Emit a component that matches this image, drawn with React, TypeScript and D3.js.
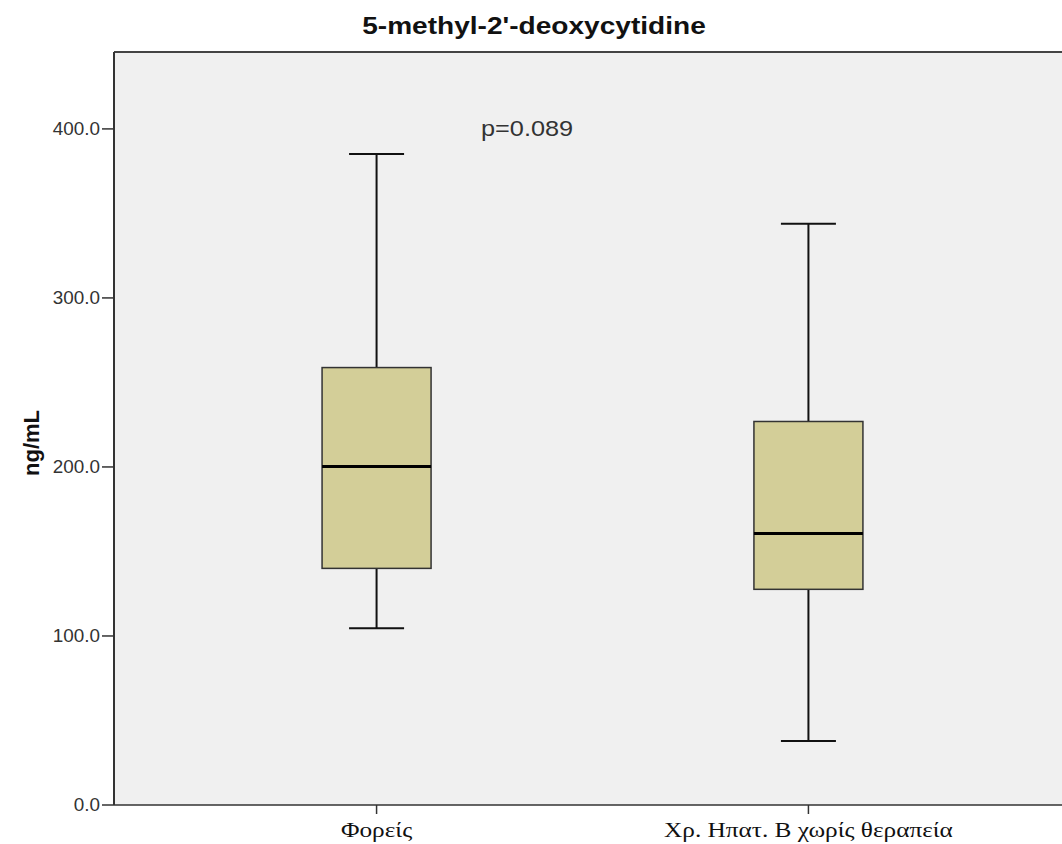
import React from "react";
import * as d3 from "d3";

const title = "5-methyl-2'-deoxycytidine";
const yLabel = "ng/mL";
const pLabel = "p=0.089";
const categories = ["Φορείς", "Χρ. Ηπατ. Β χωρίς θεραπεία"];
const whiskerLow = [104.6, 37.8];
const q1 = [140.0, 127.6];
const median = [200.3, 160.7];
const q3 = [258.8, 226.9];
const whiskerHigh = [385.2, 343.9];
const yTicks = [0, 100, 200, 300, 400];

const W = 1062;
const H = 844;
const margin = { top: 52, right: -9, bottom: 39, left: 114 };
// the source picture is a bit stretched sideways
const SX = 1.15;

function StretchText({ x, y, anchor = "start", sx = SX, children, ...rest }: any) {
  return (
    <text transform={`translate(${x},${y}) scale(${sx},1)`} textAnchor={anchor} {...rest}>
      {children}
    </text>
  );
}

export default function App() {
  const innerW = W - margin.left - margin.right;
  const innerH = H - margin.top - margin.bottom;

  const y = d3.scaleLinear().domain([0, 445.5]).range([innerH, 0]);
  const x = d3.scalePoint<string>().domain(categories).range([0, innerW]).padding(0.608);
  const boxW = 109;
  const capW = 55;

  return (
    <svg width={W} height={H} style={{ position: "absolute", left: 0, top: 0, display: "block", background: "#fff" }}>
      <StretchText x={534} y={34} anchor="middle" sx={1.17} fontFamily="Liberation Sans, Arial" fontWeight="bold" fontSize={24} fill="#111">
        {title}
      </StretchText>
      <g transform={`translate(${margin.left},${margin.top})`}>
        <rect x={0} y={0} width={innerW} height={innerH} fill="#f0f0f0" />
        <line x1={0} x2={innerW} y1={0} y2={0} stroke="#444" strokeWidth={2} />
        {categories.map((c, i) => {
          const cx = x(c)!;
          return (
            <g key={c}>
              <line x1={cx} x2={cx} y1={y(whiskerHigh[i])} y2={y(q3[i])} stroke="#111" strokeWidth={2} />
              <line x1={cx} x2={cx} y1={y(q1[i])} y2={y(whiskerLow[i])} stroke="#111" strokeWidth={2} />
              <line x1={cx - capW / 2} x2={cx + capW / 2} y1={y(whiskerHigh[i])} y2={y(whiskerHigh[i])} stroke="#111" strokeWidth={2} />
              <line x1={cx - capW / 2} x2={cx + capW / 2} y1={y(whiskerLow[i])} y2={y(whiskerLow[i])} stroke="#111" strokeWidth={2} />
              <rect
                x={cx - boxW / 2}
                y={y(q3[i])}
                width={boxW}
                height={y(q1[i]) - y(q3[i])}
                fill="#d3ce98"
                stroke="#333"
                strokeWidth={1.5}
              />
              <line x1={cx - boxW / 2} x2={cx + boxW / 2} y1={y(median[i])} y2={y(median[i])} stroke="#000" strokeWidth={3} />
              <line x1={cx} x2={cx} y1={innerH} y2={innerH + 9} stroke="#333" strokeWidth={1.5} />
              <StretchText x={cx} y={innerH + 32} anchor="middle" fontFamily="Liberation Serif, Times New Roman" fontSize={22} fill="#111">
                {c}
              </StretchText>
            </g>
          );
        })}
        <line x1={0} x2={0} y1={0} y2={innerH} stroke="#333" strokeWidth={2} />
        <line x1={0} x2={innerW} y1={innerH} y2={innerH} stroke="#333" strokeWidth={1.5} />
        {yTicks.map((t) => (
          <g key={t} transform={`translate(0,${y(t)})`}>
            <line x1={-12} x2={0} stroke="#333" strokeWidth={1.5} />
            <StretchText x={-14} y={6} anchor="end" sx={1.05} fontFamily="Liberation Sans, Arial" fontSize={18} fill="#333">
              {d3.format(".1f")(t)}
            </StretchText>
          </g>
        ))}
        <StretchText x={367} y={y(400) + 7} fontFamily="Liberation Sans, Arial" fontSize={22} fill="#333">
          {pLabel}
        </StretchText>
      </g>
      <text
        transform={`translate(39,443) rotate(-90)`}
        textAnchor="middle"
        fontFamily="Liberation Sans, Arial"
        fontWeight="bold"
        fontSize={22}
        fill="#111"
      >
        {yLabel}
      </text>
    </svg>
  );
}
